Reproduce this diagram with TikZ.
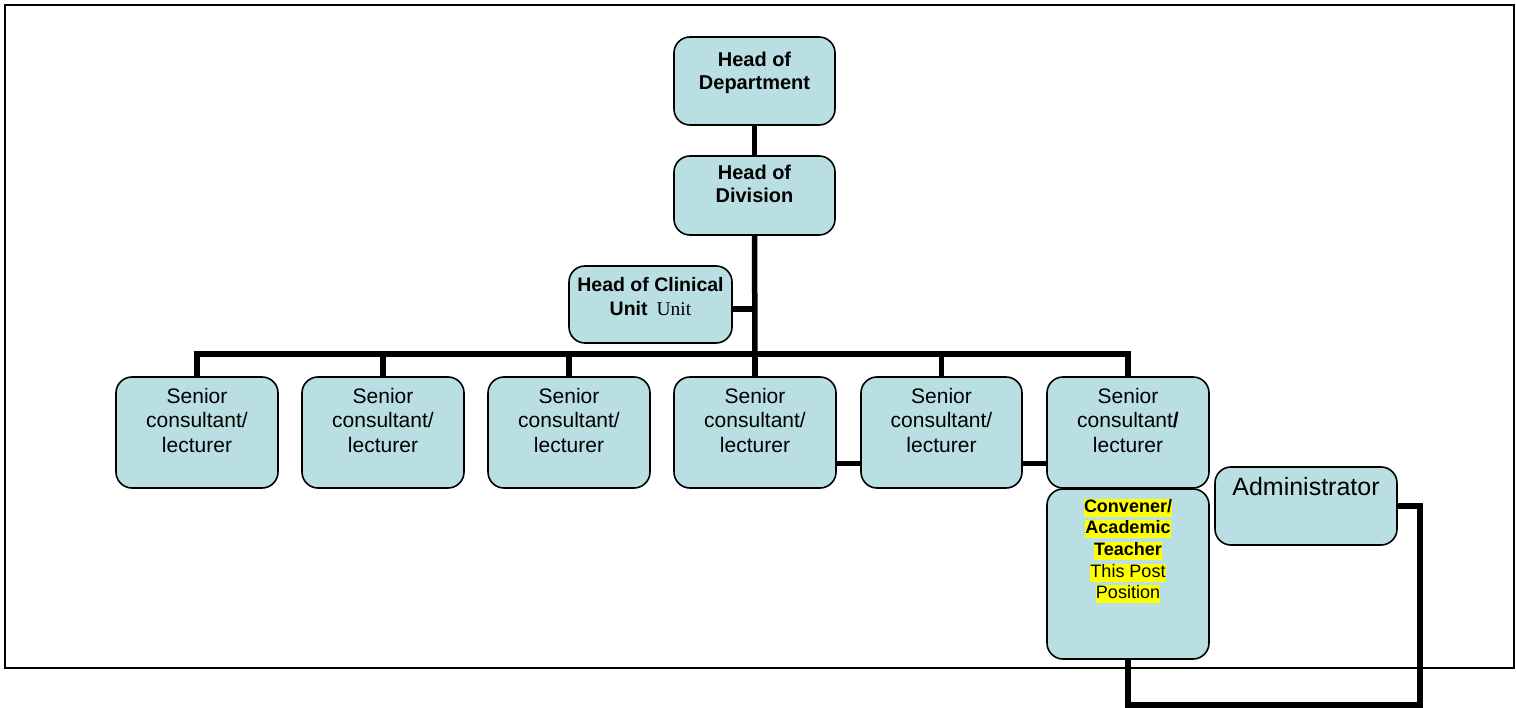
\documentclass[tikz,border=0pt]{standalone}
\usepackage{fontspec}
\setmainfont{Liberation Sans}
\newfontfamily\timesfont{Liberation Serif}
\usetikzlibrary{calc}
\pgfdeclarelayer{background}
\pgfsetlayers{background,main}
\definecolor{boxfill}{RGB}{185,223,227}
\definecolor{hl}{RGB}{255,255,0}
\newcommand{\hlline}[1]{\colorbox{hl}{\rule[-4.5pt]{0pt}{18pt}#1}}
\tikzset{
  box/.style={draw=black, line width=1.6pt, fill=boxfill, rounded corners=16pt, inner sep=0pt},
  conn/.style={draw=black, line width=5.5pt, line join=miter},
  lbl/.style={align=center, inner sep=0pt},
  seniorfont/.style={font=\fontsize{21}{24.5}\selectfont},
  headfont/.style={font=\bfseries\fontsize{20}{23.5}\selectfont},
}
\begin{document}
\begin{tikzpicture}[x=1pt,y=-1pt]
\useasboundingbox (0,0) rectangle (1516,708);
\draw[line width=2.5pt] (5,5) rectangle (1514,668);

% boxes
\path
  (754.5,81)    node[box, minimum width=161pt, minimum height=88pt] (hod) {}
  (754.5,195.5) node[box, minimum width=161pt, minimum height=79pt] (hdiv) {}
  (650.5,304.5) node[box, minimum width=163pt, minimum height=77pt] (hcu) {}
  (197,432.5)   node[box, minimum width=162pt, minimum height=111pt] (s1) {}
  (383,432.5)   node[box, minimum width=162pt, minimum height=111pt] (s2) {}
  (569,432.5)   node[box, minimum width=162pt, minimum height=111pt] (s3) {}
  (755,432.5)   node[box, minimum width=162pt, minimum height=111pt] (s4) {}
  (941.5,432.5) node[box, minimum width=161pt, minimum height=111pt] (s5) {}
  (1128,432.5)  node[box, minimum width=162pt, minimum height=111pt] (s6) {}
  (1128,574)    node[box, minimum width=162pt, minimum height=170pt] (conv) {}
  (1306,506)    node[box, minimum width=182pt, minimum height=78pt] (admin) {};
\coordinate (bar) at (755,354);
\coordinate (low) at (1420,705);

% texts
\node[lbl, headfont] (hodt) at (754.5,73) {Head of\\Department};
\node[lbl, headfont] (hdivt) at (754.5,184) {Head of\\Division};
\node[lbl, font=\bfseries\fontsize{19.5}{24}\selectfont] (hcut) at (650.5,297)
  {Head of Clinical\\Unit\hspace{9pt}{\timesfont\mdseries\fontsize{19.5}{24}\selectfont Unit}};
\foreach \s in {s1,s2,s3,s4,s5}
  \node[lbl, seniorfont] (\s t) at ($(\s.north)+(0,44)$) {Senior\\consultant/\\lecturer};
\node[lbl, seniorfont] (s6t) at ($(s6.north)+(0,44)$) {Senior\\consultant\textbf{/}\\lecturer};
\node[lbl, font=\fontsize{25}{30}\selectfont] (admint) at (1306,487) {Administrator};
\node[lbl, font=\fontsize{18}{21.7}\selectfont] (convt) at (1128,551)
  {\setlength{\fboxsep}{0pt}\hlline{\textbf{Convener/}}\\
   \setlength{\fboxsep}{0pt}\hlline{\textbf{Academic}}\\
   \setlength{\fboxsep}{0pt}\hlline{\textbf{Teacher}}\\
   \setlength{\fboxsep}{0pt}\hlline{This Post}\\
   \setlength{\fboxsep}{0pt}\hlline{Position}};

% connectors behind the boxes
\begin{pgfonlayer}{background}
  \draw[conn] (hod.south) -- (hdiv.north);
  \draw[conn] (hdiv.south) -- (bar);
  \draw[conn] ($(hcu.east)+(0,4.5)$) -- ($(hcu.east -| hdiv.south)+(0,4.5)$);
  \draw[conn] (s1.north) -- (s1.north |- bar) -- (s6.north |- bar) -- (s6.north);
  \foreach \s in {s2,s3,s4,s5}
    \draw[conn] (\s.north) -- (\s.north |- bar);
  \draw[conn] ($(s4.east)+(0,31)$) -- ($(s5.west)+(0,31)$);
  \draw[conn] ($(s5.east)+(0,31)$) -- ($(s6.west)+(0,31)$);
  \draw[conn] (conv.south) -- (conv.south |- low) -- (low) -- (low |- admin.east) -- (admin.east);
\end{pgfonlayer}
\end{tikzpicture}
\end{document}
